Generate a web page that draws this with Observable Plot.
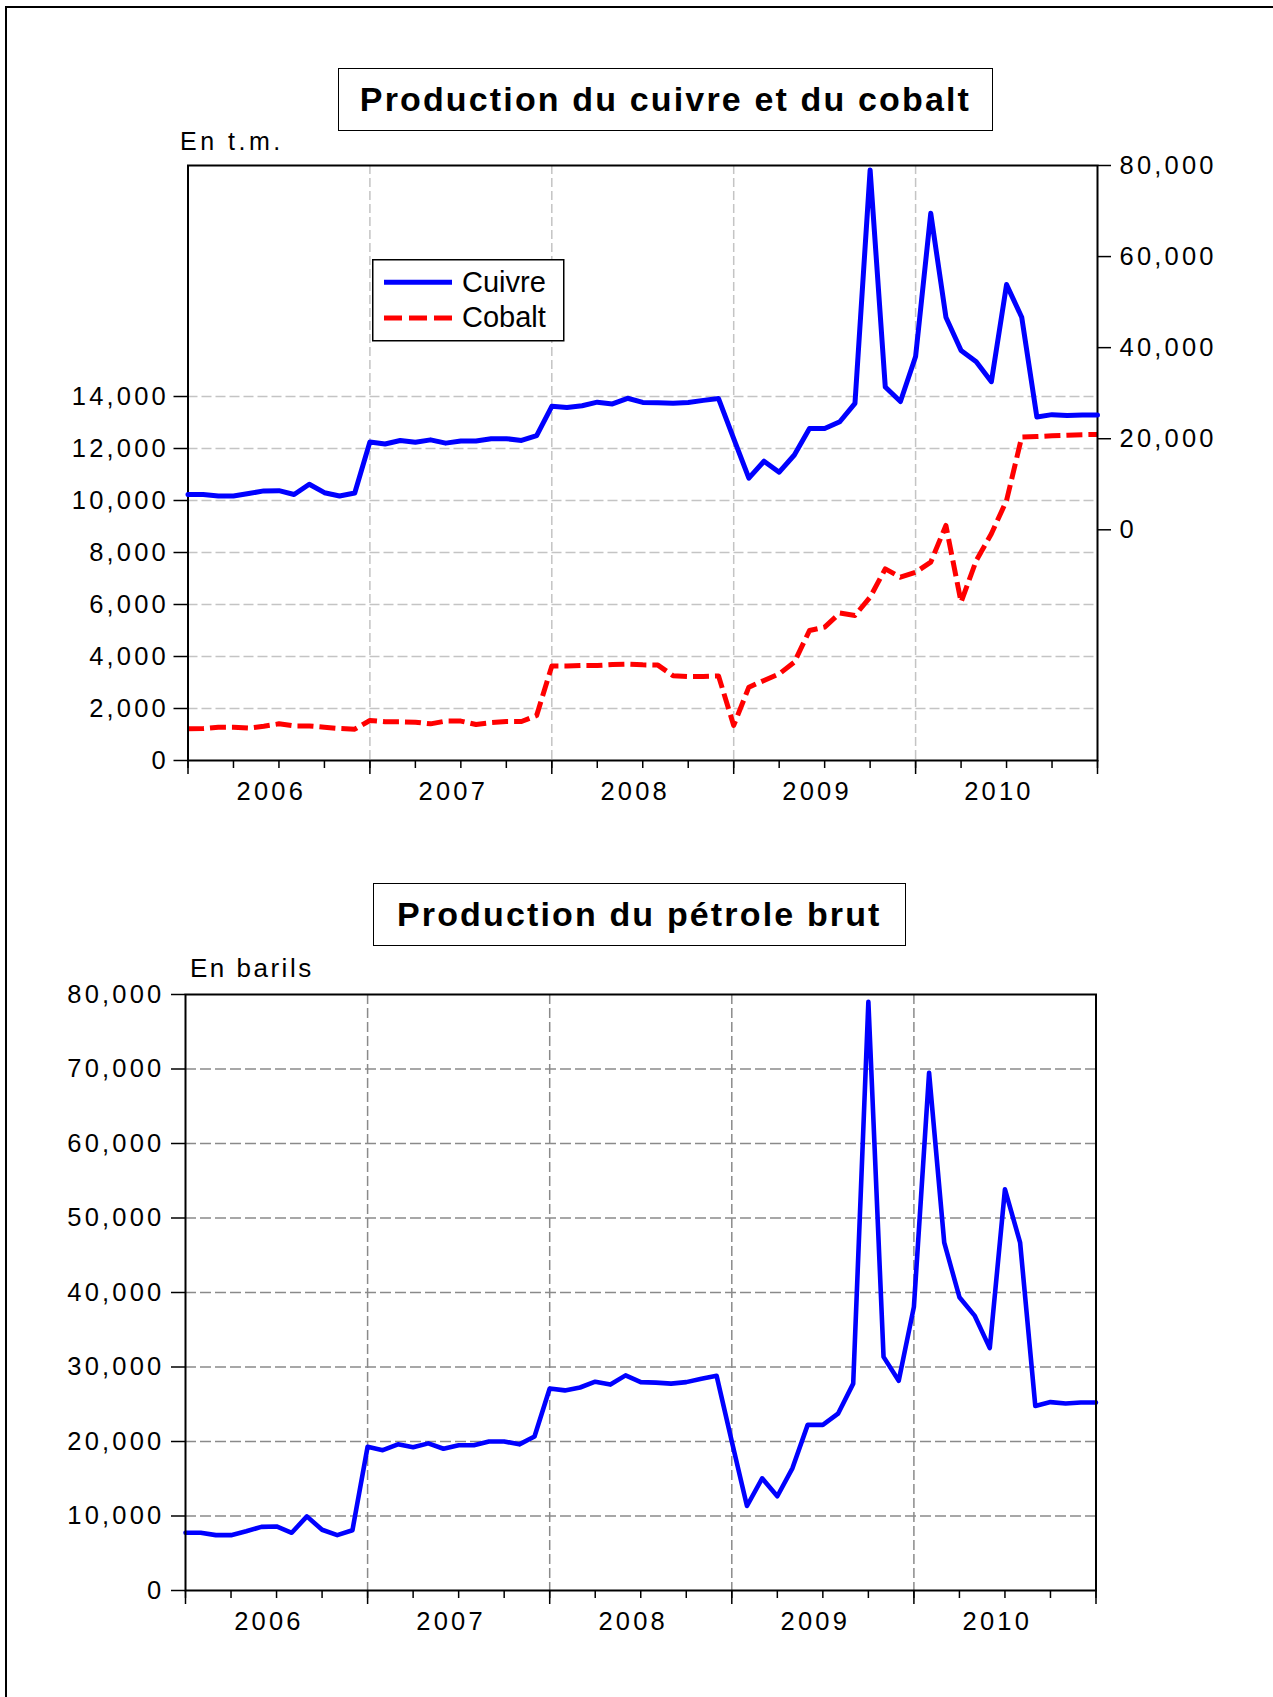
<!DOCTYPE html>
<html><head><meta charset="utf-8">
<script src="https://cdn.jsdelivr.net/npm/d3@7"></script>
<script src="https://cdn.jsdelivr.net/npm/@observablehq/plot@0.6"></script>
<style>
html,body{margin:0;padding:0;background:#fff;}
#page{position:relative;width:1273px;height:1697px;overflow:hidden;background:#fff;font-family:"Liberation Sans",Arial,sans-serif;color:#000;}
.abs{position:absolute;}
#border{left:4.5px;top:6.3px;width:1400px;height:1800px;border:2px solid #000;box-sizing:border-box;}
.titlebox{box-sizing:border-box;border:1.5px solid #000;background:#fff;display:flex;align-items:center;justify-content:center;font-weight:bold;font-size:34px;letter-spacing:2.15px;white-space:nowrap;}
.unit{line-height:1;white-space:nowrap;}
</style></head>
<body><div id="page">
<div id="border" class="abs"></div>
<div class="abs titlebox" style="left:337.7px;top:67.5px;width:655.5px;height:63.5px;">Production du cuivre et du cobalt</div>
<div class="abs unit" style="left:180px;top:129px;font-size:25px;letter-spacing:3.5px;">En t.m.</div>
<div class="abs titlebox" style="left:372.5px;top:883px;width:533.5px;height:63px;">Production du pétrole brut</div>
<div class="abs unit" style="left:190px;top:954.6px;font-size:26px;letter-spacing:2.5px;">En barils</div>
<div id="top" class="abs" style="left:0;top:140px;"></div>
<div id="topover" class="abs" style="left:0;top:140px;"></div>
<div id="bottom" class="abs" style="left:0;top:970px;"></div>
<div id="legend" class="abs" style="left:372px;top:258.5px;"></div>
</div>
<script>
// ---- data (monthly, Jan 2006 .. Jan 2011) ----
const years = ["2006", "2007", "2008", "2009", "2010"];
const seriesNames = ["Cuivre", "Cobalt"];
const cuivre = [7750, 7750, 7430, 7430, 7950, 8540, 8600, 7750, 10000, 8150, 7430, 8080,
  19300, 18840, 19620, 19230, 19750, 19030, 19490, 19490, 20010, 20010, 19620, 20670,
  27120, 26860, 27250, 28030, 27640, 28880, 27970, 27900, 27770, 27970, 28420, 28810,
  20000, 11340, 15060, 12650, 16430, 22230, 22230, 23730, 27770, 79010, 31360, 28160,
  38070, 69490, 46680, 39370, 36900, 32530, 53850, 46680, 24770, 25290, 25100, 25230, 25230];
const cobalt = [1220, 1230, 1280, 1280, 1245, 1320, 1410, 1330, 1330, 1280, 1230, 1205,
  1540, 1490, 1490, 1475, 1410, 1515, 1515, 1385, 1460, 1500, 1500, 1730,
  3630, 3630, 3655, 3655, 3690, 3705, 3680, 3670, 3260, 3230, 3230, 3250,
  1350, 2820, 3080, 3330, 3780, 5000, 5130, 5670, 5580, 6280, 7370, 7050,
  7240, 7630, 9040, 6090, 7690, 8720, 10000, 12440, 12460, 12490, 12510, 12530, 12540];
const petrole = [7750, 7750, 7430, 7430, 7950, 8540, 8600, 7750, 9950, 8150, 7430, 8080,
  19300, 18840, 19620, 19230, 19750, 19030, 19490, 19490, 20010, 20010, 19620, 20670,
  27120, 26860, 27250, 28030, 27640, 28880, 27970, 27900, 27770, 27970, 28420, 28810,
  20000, 11340, 15060, 12650, 16430, 22230, 22230, 23730, 27770, 79010, 31360, 28160,
  38070, 69490, 46680, 39370, 36900, 32530, 53850, 46680, 24770, 25290, 25100, 25230, 25230];
const leftTicks = [0, 2000, 4000, 6000, 8000, 10000, 12000, 14000];
const rightTicks = [0, 20000, 40000, 60000, 80000];
const oilTicks = [0, 10000, 20000, 30000, 40000, 50000, 60000, 70000, 80000];

// ---- helpers ----
const nMonths = cobalt.length - 1;                 // month index 0..60
const quarterTicks = d3.range(0, nMonths + 1, 3);
const yearTicks = d3.range(0, nMonths + 1, 12);
const labelTicks = years.map((y, i) => i * 12 + 5.5);
const yearLabel = d => years[Math.round((d - 5.5) / 12)];
const fmt = d3.format(",");
const rows = arr => arr.map((v, i) => ({t: i, v}));
const st = {fontFamily: '"Liberation Sans", Arial, sans-serif', fontSize: "25.5px", letterSpacing: "3.2px",
  color: "#000", background: "transparent", overflow: "visible"};

const xAxes = () => [
  Plot.axisX(quarterTicks, {tickSize: 8, tickFormat: () => "", strokeWidth: 1.5, label: null}),
  Plot.axisX(yearTicks, {tickSize: 14, tickFormat: () => "", strokeWidth: 1.5, label: null}),
  Plot.axisX(labelTicks, {tickSize: 0, tickPadding: 21, tickFormat: yearLabel, label: null})
];

// ---- top chart: cobalt (left axis) ----
const topBase = Plot.plot({
  width: 1273, height: 680, marginTop: 25, marginBottom: 60, marginLeft: 187.5, marginRight: 176,
  x: {domain: [0, nMonths], label: null}, y: {domain: [0, 22885], label: null},
  style: st,
  marks: [
    Plot.gridY(leftTicks.slice(1), {stroke: "#c4c4c4", strokeOpacity: 1, strokeWidth: 1.5, strokeDasharray: "10,4"}),
    Plot.gridX(yearTicks.slice(1, -1), {stroke: "#c4c4c4", strokeOpacity: 1, strokeWidth: 1.5, strokeDasharray: "9,4"}),
    Plot.line(rows(cobalt), {x: "t", y: "v", stroke: "#ff0000", strokeWidth: 5, strokeDasharray: "16,6", strokeLinecap: "butt"}),
    Plot.frame({stroke: "#000", strokeWidth: 2}),
    Plot.axisY(leftTicks, {tickSize: 14, tickPadding: 5, tickFormat: fmt, strokeWidth: 1.5, label: null}),
    ...xAxes()
  ]
});
document.getElementById("top").append(topBase);

// ---- top chart: cuivre (right axis) ----
const topOver = Plot.plot({
  width: 1273, height: 680, marginTop: 25, marginBottom: 60, marginLeft: 187.5, marginRight: 176,
  x: {domain: [0, nMonths], axis: null, label: null}, y: {domain: [-50663, 80000], label: null},
  style: st,
  marks: [
    Plot.line(rows(cuivre), {x: "t", y: "v", stroke: "#0000ff", strokeWidth: 5}),
    Plot.axisY(rightTicks, {anchor: "right", tickSize: 13, tickPadding: 9, tickFormat: fmt, strokeWidth: 1.5, label: null})
  ]
});
document.getElementById("topover").append(topOver);

// ---- bottom chart: petrole ----
const bottom = Plot.plot({
  width: 1273, height: 680, marginTop: 24, marginBottom: 60, marginLeft: 185, marginRight: 177.5,
  x: {domain: [0, nMonths], label: null}, y: {domain: [0, 80000], label: null},
  style: st,
  marks: [
    Plot.gridY(oilTicks.slice(1, -1), {stroke: "#8a8a8a", strokeOpacity: 1, strokeWidth: 1.5, strokeDasharray: "11,4"}),
    Plot.gridX(yearTicks.slice(1, -1), {stroke: "#8a8a8a", strokeOpacity: 1, strokeWidth: 1.5, strokeDasharray: "10,4"}),
    Plot.line(rows(petrole), {x: "t", y: "v", stroke: "#0000ff", strokeWidth: 4.6}),
    Plot.frame({stroke: "#000", strokeWidth: 2}),
    Plot.axisY(oilTicks, {tickSize: 14, tickPadding: 7, tickFormat: fmt, strokeWidth: 1.5, label: null}),
    ...xAxes()
  ]
});
document.getElementById("bottom").append(bottom);

// ---- legend ----
const lg = d3.select("#legend").append("svg").attr("width", 193).attr("height", 83)
  .style("font-family", '"Liberation Sans", Arial, sans-serif').style("font-size", "29px");
lg.append("rect").attr("x", 0.75).attr("y", 0.75).attr("width", 191).attr("height", 81)
  .attr("fill", "#fff").attr("stroke", "#000").attr("stroke-width", 1.5);
const legendItems = [
  {name: seriesNames[0], color: "#0000ff", dash: null, ly: 23.3, ty: 32.5},
  {name: seriesNames[1], color: "#ff0000", dash: "18,7", ly: 59, ty: 67.7}
];
for (const it of legendItems) {
  lg.append("line").attr("x1", 12).attr("x2", 80).attr("y1", it.ly).attr("y2", it.ly)
    .attr("stroke", it.color).attr("stroke-width", 5).attr("stroke-dasharray", it.dash);
  lg.append("text").attr("x", 90).attr("y", it.ty).text(it.name);
}
</script>
</body></html>
